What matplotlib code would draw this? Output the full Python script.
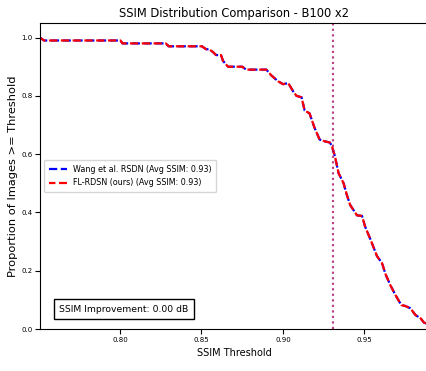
import numpy as np
import matplotlib
matplotlib.use('Agg')
import matplotlib.pyplot as plt

# SSIM thresholds and the share of B100 images at or above each one
thresholds = [0.7509, 0.7534, 0.8003, 0.8015, 0.8281, 0.8299, 0.8503, 0.8528,
              0.8546, 0.8571, 0.8589, 0.8620, 0.8632, 0.8663, 0.8750, 0.8774,
              0.8898, 0.8929, 0.8970, 0.9001, 0.9032, 0.9063, 0.9083, 0.9114,
              0.9133, 0.9163, 0.9194, 0.9225, 0.9256, 0.9287, 0.9299, 0.9320,
              0.9341, 0.9372, 0.9392, 0.9412, 0.9454, 0.9485, 0.9505, 0.9535,
              0.9577, 0.9608, 0.9628, 0.9659, 0.9690, 0.9726, 0.9751, 0.9782,
              0.9813, 0.9844, 0.9865, 0.9890]
prop_rsdn = [1.00, 0.99, 0.99, 0.98, 0.98, 0.97, 0.97, 0.96,
             0.96, 0.95, 0.94, 0.94, 0.92, 0.90, 0.90, 0.89,
             0.89, 0.87, 0.85, 0.84, 0.844, 0.815, 0.80, 0.795,
             0.75, 0.74, 0.69, 0.65, 0.644, 0.64, 0.63, 0.59,
             0.535, 0.50, 0.46, 0.426, 0.39, 0.388, 0.35, 0.31,
             0.25, 0.226, 0.19, 0.15, 0.117, 0.082, 0.079, 0.071,
             0.048, 0.037, 0.022, 0.017]
prop_ours = list(prop_rsdn)

avg_rsdn = 0.9305
avg_ours = 0.9305
improvement = 0.00

fig = plt.figure(figsize=(4.27, 3.71), dpi=100)
ax = fig.add_axes([40 / 427, 42 / 371, 388 / 427, 306 / 371])

ax.plot(thresholds, prop_rsdn, color='blue', linestyle=(0, (3.7, 1.6)), linewidth=1.6,
        label=f'Wang et al. RSDN (Avg SSIM: {avg_rsdn:.2f})')
# slightly shifted dash phase so a bit of the blue curve shows in the gaps
ax.plot(thresholds, prop_ours, color='red', linestyle=(0.8, (3.7, 1.6)), linewidth=1.6,
        label=f'FL-RDSN (ours) (Avg SSIM: {avg_ours:.2f})')

# mean SSIM markers
ax.axvline(avg_rsdn, color='blue', linestyle=':', linewidth=1.5, alpha=0.5)
ax.axvline(avg_ours, color='red', linestyle=':', linewidth=1.5, alpha=0.5)

ax.set_xlim(min(thresholds), max(thresholds))
ax.set_ylim(0, 1.05)
ax.set_xticks([0.80, 0.85, 0.90, 0.95])
ax.set_yticks([0.0, 0.2, 0.4, 0.6, 0.8, 1.0])
ax.tick_params(labelsize=5, length=3.5, width=0.8, pad=2)

ax.set_xlabel('SSIM Threshold', fontsize=7, labelpad=4)
ax.set_ylabel('Proportion of Images >= Threshold', fontsize=8.2, labelpad=2)
ax.set_title('SSIM Distribution Comparison - B100 x2', fontsize=8.3, pad=4)

ax.legend(loc='center left', fontsize=5.8, handlelength=2.2, borderpad=0.6,
          labelspacing=0.6)

ax.text(0.05, 0.05, f'SSIM Improvement: {improvement:.2f} dB',
        transform=ax.transAxes, fontsize=6.7, ha='left', va='bottom',
        bbox=dict(facecolor='white', edgecolor='black', pad=4))

fig.savefig('out.png', dpi=100)
